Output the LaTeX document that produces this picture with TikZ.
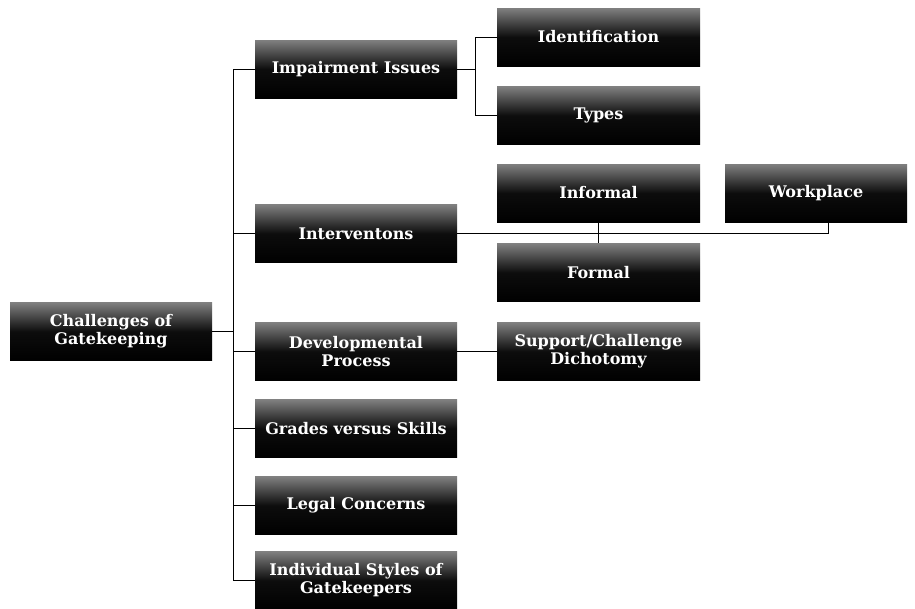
\documentclass[tikz,border=0pt]{standalone}
\usepackage{fontspec}
\setmainfont{DejaVu Serif}
\begin{document}
\begin{tikzpicture}[x=1pt,y=-1pt,
  box/.style={rectangle, minimum width=202pt, minimum height=58pt, inner sep=2pt,
    top color=black!50, bottom color=black, middle color=black!95,
    text=white, font=\fontsize{16}{18}\selectfont\bfseries, align=center},
  conn/.style={draw=black, line width=0.9pt}]
\useasboundingbox (0,0) rectangle (915,608);
\fill[white] (0,0) rectangle (915,608);
% nodes
\node[box] (root) at (111,331.5) {Challenges of\\Gatekeeping};
\node[box] (imp) at (356,69) {Impairment Issues};
\node[box] (int) at (356,233.5) {Interventons};
\node[box] (dev) at (356,351.5) {Developmental\\Process};
\node[box] (gra) at (356,428.5) {Grades versus Skills};
\node[box] (leg) at (356,505.5) {Legal Concerns};
\node[box] (ind) at (356,580.5) {Individual Styles of\\Gatekeepers};
\node[box, minimum width=203pt] (ide) at (598.5,37) {Identification};
\node[box, minimum width=203pt] (typ) at (598.5,115.5) {Types};
\node[box, minimum width=203pt] (inf) at (598.5,193) {Informal};
\node[box, minimum width=203pt] (for) at (598.5,272.5) {Formal};
\node[box, minimum width=182pt] (wor) at (816,193) {Workplace};
\node[box, minimum width=203pt] (sup) at (598.5,351.5) {Support/Challenge\\Dichotomy};
% helper coordinates
\coordinate (t) at (233,0);
\coordinate (b1) at (475,0);
\coordinate (w1) at (828,0);
% root trunk
\draw[conn] (root.east) -- (root.east -| t);
\draw[conn] (imp.west -| t) -- (ind.west -| t);
\foreach \n in {imp,int,dev,gra,leg,ind}
  \draw[conn] (\n.west -| t) -- (\n.west);
% impairment branch
\draw[conn] (imp.east) -- (imp.east -| b1);
\draw[conn] (ide.west -| b1) -- (typ.west -| b1);
\draw[conn] (ide.west -| b1) -- (ide.west);
\draw[conn] (typ.west -| b1) -- (typ.west);
% interventions branch
\draw[conn] (int.east) -- (int.east -| w1) -- (w1 |- wor.south);
\draw[conn] (inf.south) -- (for.north);
% developmental branch
\draw[conn] (dev.east) -- (sup.west);
\end{tikzpicture}
\end{document}
